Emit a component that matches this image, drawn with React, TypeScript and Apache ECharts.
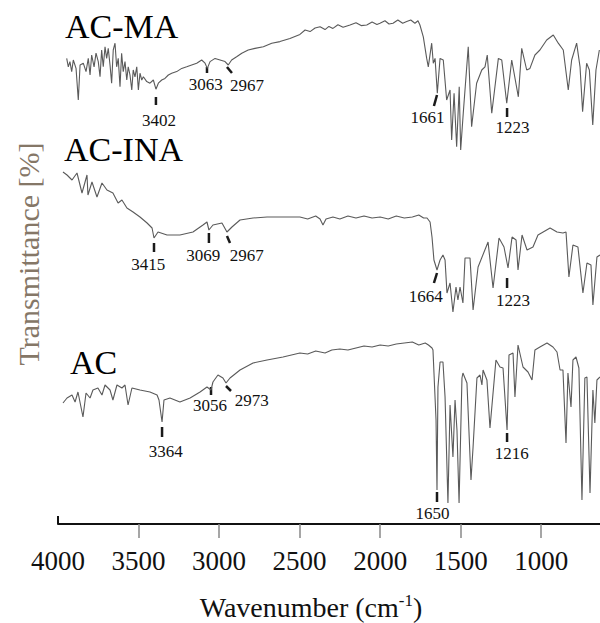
import React, { useEffect, useRef } from 'react';
import * as echarts from 'echarts';

const FONT = "'Liberation Serif', 'Times New Roman', Times, serif";

// Wavenumber (cm-1), offset transmittance (arbitrary units, stacked)
const acMA: number[][] = [
  [3946, 116.4], [3936, 114.3], [3926, 115.6], [3915, 113.1], [3905, 116], [3888, 113.9], [3874, 106],
  [3863, 114.75], [3843, 115.2], [3826, 113.1], [3812, 116.4], [3801, 112.25], [3791, 117.25], [3776, 114.3],
  [3764, 117.7], [3750, 115.6], [3739, 111.8], [3729, 118.5], [3719, 114.3], [3708, 119.3], [3698, 116.4],
  [3688, 118.9], [3677, 114.75], [3667, 110.2], [3657, 118.5], [3646, 120.2], [3636, 114.3], [3626, 116.4],
  [3615, 109.3], [3605, 117.7], [3595, 113.1], [3584, 115.6], [3573, 111], [3564, 114.3], [3553, 112.25],
  [3542, 108.5], [3533, 113.5], [3522, 111.8], [3511, 114.3], [3501, 108.5], [3491, 112.7], [3480, 111],
  [3470, 111.8], [3449, 110.6], [3429, 110.2], [3408, 111], [3392, 108.7], [3377, 110.2], [3356, 111],
  [3336, 111.4], [3315, 112.25], [3294, 112.7], [3263, 113.1], [3232, 113.9], [3201, 114.3], [3170, 114.75],
  [3139, 115.2], [3108, 116], [3087, 115.2], [3073, 113.9], [3056, 115.6], [3025, 116.4], [2994, 116],
  [2963, 115.6], [2943, 114.75], [2922, 116], [2891, 116.8], [2859, 117.7], [2819, 118.5], [2777, 118.9],
  [2725, 119.3], [2673, 120.2], [2622, 120.6], [2560, 121.4], [2498, 122.4], [2466, 123.5], [2435, 123.1],
  [2404, 124], [2373, 124.3], [2342, 123.6], [2318, 124.4], [2293, 123.9], [2262, 124.8], [2230, 124.2],
  [2187, 124.75], [2150, 125.3], [2118, 124.6], [2083, 124.75], [2050, 125.5], [2020, 124.9], [2001, 125.2],
  [1970, 125.8], [1945, 125], [1920, 125.2], [1890, 126], [1860, 125.2], [1835, 125.6], [1810, 126],
  [1784, 125.2], [1765, 125.8], [1753, 124.75], [1732, 121.8], [1711, 116.4], [1701, 114.3], [1680, 120.2],
  [1670, 115.2], [1659, 116.4], [1645, 107.7], [1628, 116.4], [1608, 116], [1587, 106], [1566, 108.5],
  [1556, 96], [1541, 107.7], [1525, 94.3], [1509, 109.3], [1500, 93.5], [1484, 102.7], [1453, 119.3],
  [1432, 99.3], [1401, 110.2], [1369, 113.5], [1349, 114.3], [1335, 117.25], [1307, 102.7], [1266, 116.4],
  [1245, 116], [1214, 105.2], [1183, 116], [1142, 106.8], [1121, 118.9], [1090, 113.5], [1070, 113.9],
  [1039, 117.25], [1008, 118.5], [966, 121], [925, 122.25], [894, 120.2], [863, 118.5], [832, 108.5],
  [811, 116], [780, 120.2], [759, 114.3], [743, 103.1], [718, 115.2], [701, 113.5], [680, 99.75],
  [660, 113.5], [639, 118.5],
];

const acINA: number[][] = [
  [3969, 88], [3944, 87.25], [3913, 86], [3882, 87.75], [3851, 82.75], [3820, 87.25], [3814, 82.25],
  [3789, 85.5], [3758, 81.75], [3727, 85.25], [3696, 83.5], [3659, 82.75], [3627, 80.25], [3603, 81],
  [3572, 79], [3534, 78], [3491, 76.75], [3447, 75.25], [3416, 74], [3404, 71.5], [3379, 73], [3323, 72.25],
  [3243, 72.25], [3162, 73], [3100, 74.75], [3075, 75.5], [3063, 73.5], [3038, 74.75], [2982, 75.25],
  [2951, 73], [2920, 74.25], [2870, 76], [2789, 76.5], [2702, 76.75], [2603, 76.75], [2498, 76.75],
  [2450, 76.25], [2400, 77], [2373, 76.25], [2355, 74.75], [2336, 76.25], [2293, 76.75], [2250, 76.25],
  [2200, 77], [2150, 76.5], [2100, 77], [2050, 76.5], [2000, 76.75], [1950, 76.25], [1900, 77], [1850, 76.5],
  [1800, 76.75], [1760, 77.25], [1730, 76.5], [1709, 76.5], [1690, 75.5], [1678, 71.75], [1666, 66],
  [1647, 63.5], [1628, 66], [1610, 67.25], [1597, 66], [1585, 57.75], [1566, 60.25], [1548, 53], [1529, 59.25],
  [1517, 56], [1504, 59.25], [1486, 55.25], [1473, 66.5], [1442, 66.5], [1423, 53.5], [1392, 64.25],
  [1330, 70.5], [1299, 59], [1262, 71.5], [1231, 69.25], [1206, 64], [1181, 71.75], [1156, 71], [1144, 63.5],
  [1119, 72.25], [1088, 68.5], [1051, 69.25], [1020, 72.25], [945, 74], [902, 73], [865, 72.75], [846, 73],
  [828, 61.75], [803, 69.75], [772, 69.25], [741, 57.75], [716, 65.25], [691, 64.75], [679, 54.75],
  [654, 66.75], [635, 67.25],
];

const acBase: number[][] = [
  [3969, 30.25], [3944, 31.5], [3913, 32.25], [3894, 30.5], [3876, 33], [3845, 26.75], [3826, 32.75],
  [3801, 31.5], [3783, 33.5], [3752, 34], [3727, 32.25], [3708, 34.75], [3677, 33.5], [3659, 31], [3634, 34.75],
  [3603, 34], [3584, 34.75], [3565, 29.75], [3541, 34], [3491, 33.5], [3429, 33], [3385, 32.25], [3373, 31],
  [3354, 25.5], [3342, 31], [3305, 31.5], [3243, 30.5], [3180, 31.5], [3118, 33], [3075, 34.25], [3050, 33.5],
  [3038, 35.5], [3007, 37.25], [2976, 36.5], [2957, 35.25], [2932, 36.5], [2870, 38.5], [2789, 40.25],
  [2702, 41], [2603, 41.75], [2498, 42.75], [2450, 42.5], [2400, 43.25], [2342, 42.75], [2300, 43.5],
  [2250, 43.75], [2200, 43.5], [2150, 44], [2100, 44.5], [2050, 44.25], [2000, 44.75], [1950, 44.5],
  [1900, 45], [1850, 45.25], [1800, 45.5], [1760, 44.75], [1720, 45.25], [1700, 44.75], [1678, 44],
  [1672, 43.5], [1653, 26], [1647, 8.5], [1641, 34.25], [1628, 40.5], [1610, 40.5], [1597, 31.75],
  [1579, 5.25], [1566, 29.75], [1548, 16.75], [1535, 31], [1523, 23.5], [1510, 5.25], [1492, 36.5],
  [1486, 37.75], [1461, 35.25], [1436, 11], [1423, 19.25], [1399, 36.5], [1380, 37.25], [1368, 34.75],
  [1361, 38.5], [1337, 36], [1318, 24], [1281, 41], [1256, 39.25], [1237, 39], [1212, 23.5], [1200, 42.25],
  [1175, 42.75], [1163, 31.75], [1144, 44.75], [1113, 39.25], [1082, 38], [1057, 36], [1039, 43.5],
  [1008, 44.25], [964, 45.25], [927, 44.25], [902, 43], [883, 38.5], [865, 38.5], [846, 20.25], [834, 37.75],
  [815, 29.25], [803, 41], [784, 41.75], [766, 39], [747, 6], [729, 36.5], [716, 36.75], [697, 7.75],
  [679, 33.5], [667, 25.25], [654, 36], [635, 36.75],
];

const spectrumNames = ['AC-MA', 'AC-INA', 'AC'];

const peakLabels = ['3402', '3063', '2967', '1661', '1223', '3415', '3069', '2967', '1664', '1223', '3364', '3056', '2973', '1650', '1216'];
// [wnStart, yStart, wnEnd, yEnd] of each marker tick
const peakTicks: number[][] = [
  [3392, 106.75, 3392, 104.75], [3075, 114.25, 3075, 112.75], [2951, 114.25, 2920, 112.75],
  [1647, 107.25, 1666, 104.5], [1212, 104, 1212, 101.75],
  [3404, 70.25, 3404, 68], [3063, 72.75, 3063, 70.25], [2951, 72, 2932, 70.25],
  [1647, 62.75, 1666, 60.25], [1212, 61.5, 1212, 59],
  [3354, 24.25, 3354, 21.75], [3050, 34.25, 3050, 32.25], [2957, 34.5, 2926, 33.25],
  [1647, 8, 1647, 5.5], [1212, 22.75, 1212, 20.5],
];
// [wn, y] centre of each peak label
const peakLabelPos: number[][] = [
  [3373, 101], [3082, 109.9], [2827, 109.75], [1706, 101.75], [1178, 99.25],
  [3439, 65], [3098, 67.25], [2828, 67.25], [1717, 57], [1175, 56],
  [3331, 18.25], [3056, 29.75], [2797, 31], [1675, 2.75], [1183, 17.75],
];

const xTickValues = [4000, 3500, 3000, 2500, 2000, 1500, 1000];
const X_MIN = 635;
const X_MAX = 4000;
const Y_MIN = 0;
const Y_MAX = 131;

export default function App() {
  const ref = useRef<HTMLDivElement>(null);
  useEffect(() => {
    const chart = echarts.init(ref.current!, null, { renderer: 'svg' });
    const lineStyle = { color: '#5a5a5a', width: 1.1 };
    const mkLine = (name: string, data: number[][]) => ({
      name,
      type: 'line',
      data,
      showSymbol: false,
      symbol: 'none',
      lineStyle,
      silent: true,
      clip: false,
    });
    const annData = peakTicks.map((t, i) => [...t, ...peakLabelPos[i]]);
    chart.setOption({
      animation: false,
      backgroundColor: '#fff',
      grid: { left: 58, right: 0, top: 0, bottom: 99 },
      xAxis: [
        {
          type: 'value',
          inverse: true,
          min: X_MIN,
          max: X_MAX,
          position: 'bottom',
          axisLine: { show: true, lineStyle: { color: '#111', width: 2 } },
          axisTick: {
            show: true,
            customValues: xTickValues.slice(1),
            length: 14,
            lineStyle: { color: '#888', width: 1.5 },
          },
          axisLabel: { show: false },
          splitLine: { show: false },
        },
        {
          type: 'value',
          inverse: true,
          min: X_MIN,
          max: X_MAX,
          position: 'bottom',
          axisLine: { show: false },
          axisTick: {
            show: true,
            inside: true,
            customValues: [4000],
            length: 8,
            lineStyle: { color: '#111', width: 2 },
          },
          axisLabel: { show: false },
          splitLine: { show: false },
        },
      ],
      yAxis: {
        type: 'value',
        min: Y_MIN,
        max: Y_MAX,
        axisLine: { show: false },
        axisTick: { show: false },
        axisLabel: { show: false },
        splitLine: { show: false },
      },
      graphic: [
        { type: 'text', x: 65, y: 26, style: { text: spectrumNames[0], font: `34px ${FONT}`, fill: '#000', verticalAlign: 'middle' } },
        { type: 'text', x: 64, y: 149, style: { text: spectrumNames[1], font: `34px ${FONT}`, fill: '#000', verticalAlign: 'middle' } },
        { type: 'text', x: 70, y: 362, style: { text: spectrumNames[2], font: `34px ${FONT}`, fill: '#000', verticalAlign: 'middle' } },
        {
          type: 'text',
          x: 28,
          y: 254,
          rotation: Math.PI / 2,
          style: { text: 'Transmittance [%]', font: `30px ${FONT}`, fill: '#857767', align: 'center', verticalAlign: 'middle' },
        },
        {
          type: 'text',
          x: 311,
          y: 607,
          style: {
            text: '{n|Wavenumber (cm}{s|-1}{n|)}',
            align: 'center',
            verticalAlign: 'middle',
            rich: {
              n: { font: `28px ${FONT}`, fill: '#111', lineHeight: 30 },
              s: { font: `17px ${FONT}`, fill: '#111', lineHeight: 17, verticalAlign: 'top' },
            },
          },
        },
      ],
      series: [
        mkLine(spectrumNames[0], acMA),
        mkLine(spectrumNames[1], acINA),
        mkLine(spectrumNames[2], acBase),
        {
          type: 'custom',
          name: 'peaks',
          clip: false,
          silent: true,
          data: annData,
          encode: { x: [0, 2, 4], y: [1, 3, 5] },
          renderItem: (params: any, api: any) => {
            const i = params.dataIndex;
            const a = api.coord([api.value(0), api.value(1)]);
            const b = api.coord([api.value(2), api.value(3)]);
            const c = api.coord([api.value(4), api.value(5)]);
            return {
              type: 'group',
              children: [
                { type: 'line', shape: { x1: a[0], y1: a[1], x2: b[0], y2: b[1] }, style: { stroke: '#1a1a1a', lineWidth: 2.5 } },
                {
                  type: 'text',
                  x: c[0],
                  y: c[1],
                  style: { text: peakLabels[i], fill: '#111', font: `17px ${FONT}`, align: 'center', verticalAlign: 'middle' },
                },
              ],
            };
          },
        },
        {
          type: 'custom',
          name: 'xTickLabels',
          clip: false,
          silent: true,
          data: xTickValues.map((v) => [v, Y_MIN]),
          encode: { x: 0, y: 1 },
          renderItem: (params: any, api: any) => {
            const p = api.coord([api.value(0), api.value(1)]);
            return {
              type: 'text',
              x: p[0],
              y: p[1] + 37,
              style: { text: String(api.value(0)), fill: '#111', font: `27px ${FONT}`, align: 'center', verticalAlign: 'middle' },
            };
          },
        },
      ],
    });
    return () => chart.dispose();
  }, []);
  return <div ref={ref} style={{ position: 'absolute', left: 0, top: 0, width: 600, height: 623 }} />;
}
